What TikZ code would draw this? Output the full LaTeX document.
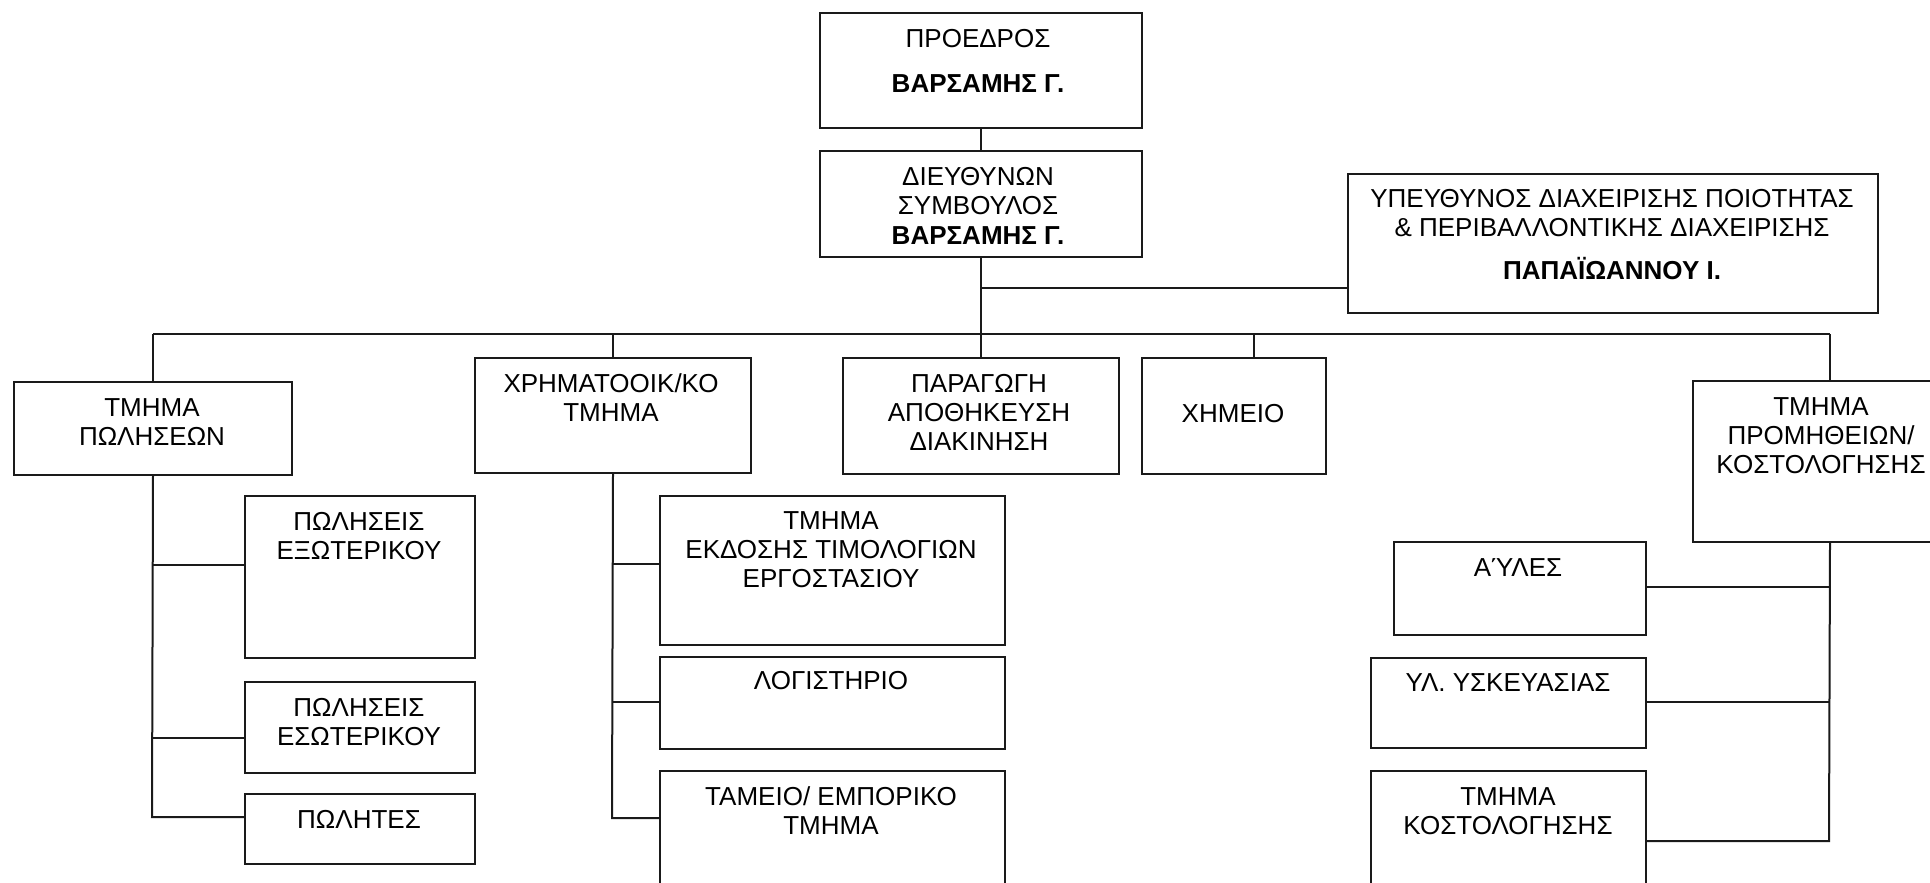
\documentclass[tikz,border=0pt]{standalone}
\usepackage{fontspec}
\setmainfont{Liberation Sans}
\newcommand\lblfont{\fontsize{26}{29}\selectfont}
% box from (x1,y1) to (x2,y2), pixel-like units, y downwards
\newcommand\orgbox[5]{\node[unit, minimum width={(#4)-(#2)}, minimum height={(#5)-(#3)}] (#1) at (#2,#3) {};}
% centred text block; (x,y) is the baseline of its first line
\newcommand\orglabel[4]{\node[lbl] (#1) at (#2,#3) {\parbox[t]{600pt}{\centering #4}};}
\definecolor{ink}{HTML}{1A1A1A}
\begin{document}
\begin{tikzpicture}[x=1pt, y=-1pt,
  unit/.style={draw=ink, line width=2pt, anchor=north west, inner sep=0pt, fill=white},
  link/.style={draw=ink, line width=2pt},
  lbl/.style={anchor=base, inner sep=0pt, font=\lblfont, text=black}]
\useasboundingbox (0,0) rectangle (1930,883);
\fill[white] (0,0) rectangle (1930,883);
\clip (0,0) rectangle (1930,883);

% ---- boxes ----
\orgbox{pres}{819}{12}{1141}{127}
\orgbox{ceo}{819}{150}{1141}{256}
\orgbox{qual}{1347}{173}{1877}{312}
\orgbox{sales}{13}{381}{291}{474}
\orgbox{fin}{474}{357}{750}{472}
\orgbox{prod}{842}{357}{1118}{473}
\orgbox{chem}{1141}{357}{1325}{473}
\orgbox{proc}{1692}{380}{1966}{541}
\orgbox{ext}{244}{495}{474}{657}
\orgbox{int}{244}{681}{474}{772}
\orgbox{sellers}{244}{793}{474}{863}
\orgbox{inv}{659}{495}{1004}{644}
\orgbox{acc}{659}{656}{1004}{748}
\orgbox{cash}{659}{770}{1004}{910}
\orgbox{raw}{1393}{541}{1645}{634}
\orgbox{pack}{1370}{657}{1645}{747}
\orgbox{cost}{1370}{770}{1645}{910}

% ---- texts ----
\orglabel{tpres}{978}{48}{ΠΡΟΕΔΡΟΣ\\[16pt]\textbf{ΒΑΡΣΑΜΗΣ Γ.}}
\orglabel{tceo}{978}{185}{ΔΙΕΥΘΥΝΩΝ\\ΣΥΜΒΟΥΛΟΣ\\[1pt]\textbf{ΒΑΡΣΑΜΗΣ Γ.}}
\orglabel{tqual}{1612}{207}{ΥΠΕΥΘΥΝΟΣ ΔΙΑΧΕΙΡΙΣΗΣ ΠΟΙΟΤΗΤΑΣ\\\& ΠΕΡΙΒΑΛΛΟΝΤΙΚΗΣ ΔΙΑΧΕΙΡΙΣΗΣ\\[14pt]\textbf{ΠΑΠΑΪΩΑΝΝΟΥ Ι.}}
\orglabel{tsales}{152}{416}{ΤΜΗΜΑ\\ΠΩΛΗΣΕΩΝ}
\orglabel{tfin}{611}{392}{ΧΡΗΜΑΤΟΟΙΚ/ΚΟ\\ΤΜΗΜΑ}
\orglabel{tprod}{979}{392}{ΠΑΡΑΓΩΓΗ\\ΑΠΟΘΗΚΕΥΣΗ\\ΔΙΑΚΙΝΗΣΗ}
\orglabel{tchem}{1233}{422}{ΧΗΜΕΙΟ}
\orglabel{tproc}{1821}{415}{ΤΜΗΜΑ\\ΠΡΟΜΗΘΕΙΩΝ/\\ΚΟΣΤΟΛΟΓΗΣΗΣ}
\orglabel{text}{359}{530}{ΠΩΛΗΣΕΙΣ\\ΕΞΩΤΕΡΙΚΟΥ}
\orglabel{tint}{359}{716}{ΠΩΛΗΣΕΙΣ\\ΕΣΩΤΕΡΙΚΟΥ}
\orglabel{tsellers}{359}{828}{ΠΩΛΗΤΕΣ}
\orglabel{tinv}{831}{529}{ΤΜΗΜΑ\\ΕΚΔΟΣΗΣ ΤΙΜΟΛΟΓΙΩΝ\\ΕΡΓΟΣΤΑΣΙΟΥ}
\orglabel{tacc}{831}{689}{ΛΟΓΙΣΤΗΡΙΟ}
\orglabel{tcash}{831}{805}{ΤΑΜΕΙΟ/ ΕΜΠΟΡΙΚΟ\\ΤΜΗΜΑ}
\orglabel{traw}{1518}{576}{ΑΎΛΕΣ}
\orglabel{tpack}{1508}{691}{ΥΛ. ΥΣΚΕΥΑΣΙΑΣ}
\orglabel{tcost}{1508}{805}{ΤΜΗΜΑ\\ΚΟΣΤΟΛΟΓΗΣΗΣ}

% ---- top of the chart ----
\coordinate (bus) at (980,334);
\coordinate (qj) at (980,288);
\draw[link] (pres.south) -- (ceo.north);
\draw[link] (ceo.south) -- (ceo.south |- bus);
\draw[link] (qj) -- (qj -| qual.west);
\draw[link] (sales.north |- bus) -- (proc.north |- bus);
\draw[link] (sales.north |- bus) -- (sales.north);
\draw[link] (fin.north |- bus) -- (fin.north);
\draw[link] (prod.north |- bus) -- (prod.north);
\coordinate (dchem) at (1254,334);
\draw[link] (dchem) -- (dchem |- chem.north);
\draw[link] (proc.north |- bus) -- (proc.north);

% ---- sales branch ----
\coordinate (s1) at (152,565);
\coordinate (s2) at (152,738);
\coordinate (s3) at (152,817);
\draw[link] (sales.south) -- (s3) -- (s3 -| sellers.west);
\draw[link] (s1) -- (s1 -| ext.west);
\draw[link] (s2) -- (s2 -| int.west);

% ---- finance branch ----
\coordinate (f1) at (612,564);
\coordinate (f2) at (612,702);
\coordinate (f3) at (612,818);
\draw[link] (fin.south) -- (f3) -- (f3 -| cash.west);
\draw[link] (f1) -- (f1 -| inv.west);
\draw[link] (f2) -- (f2 -| acc.west);

% ---- procurement branch ----
\coordinate (p1) at (1829,587);
\coordinate (p2) at (1829,702);
\coordinate (p3) at (1829,841);
\draw[link] (proc.south) -- (p3) -- (p3 -| cost.east);
\draw[link] (p1) -- (p1 -| raw.east);
\draw[link] (p2) -- (p2 -| pack.east);
\end{tikzpicture}
\end{document}
